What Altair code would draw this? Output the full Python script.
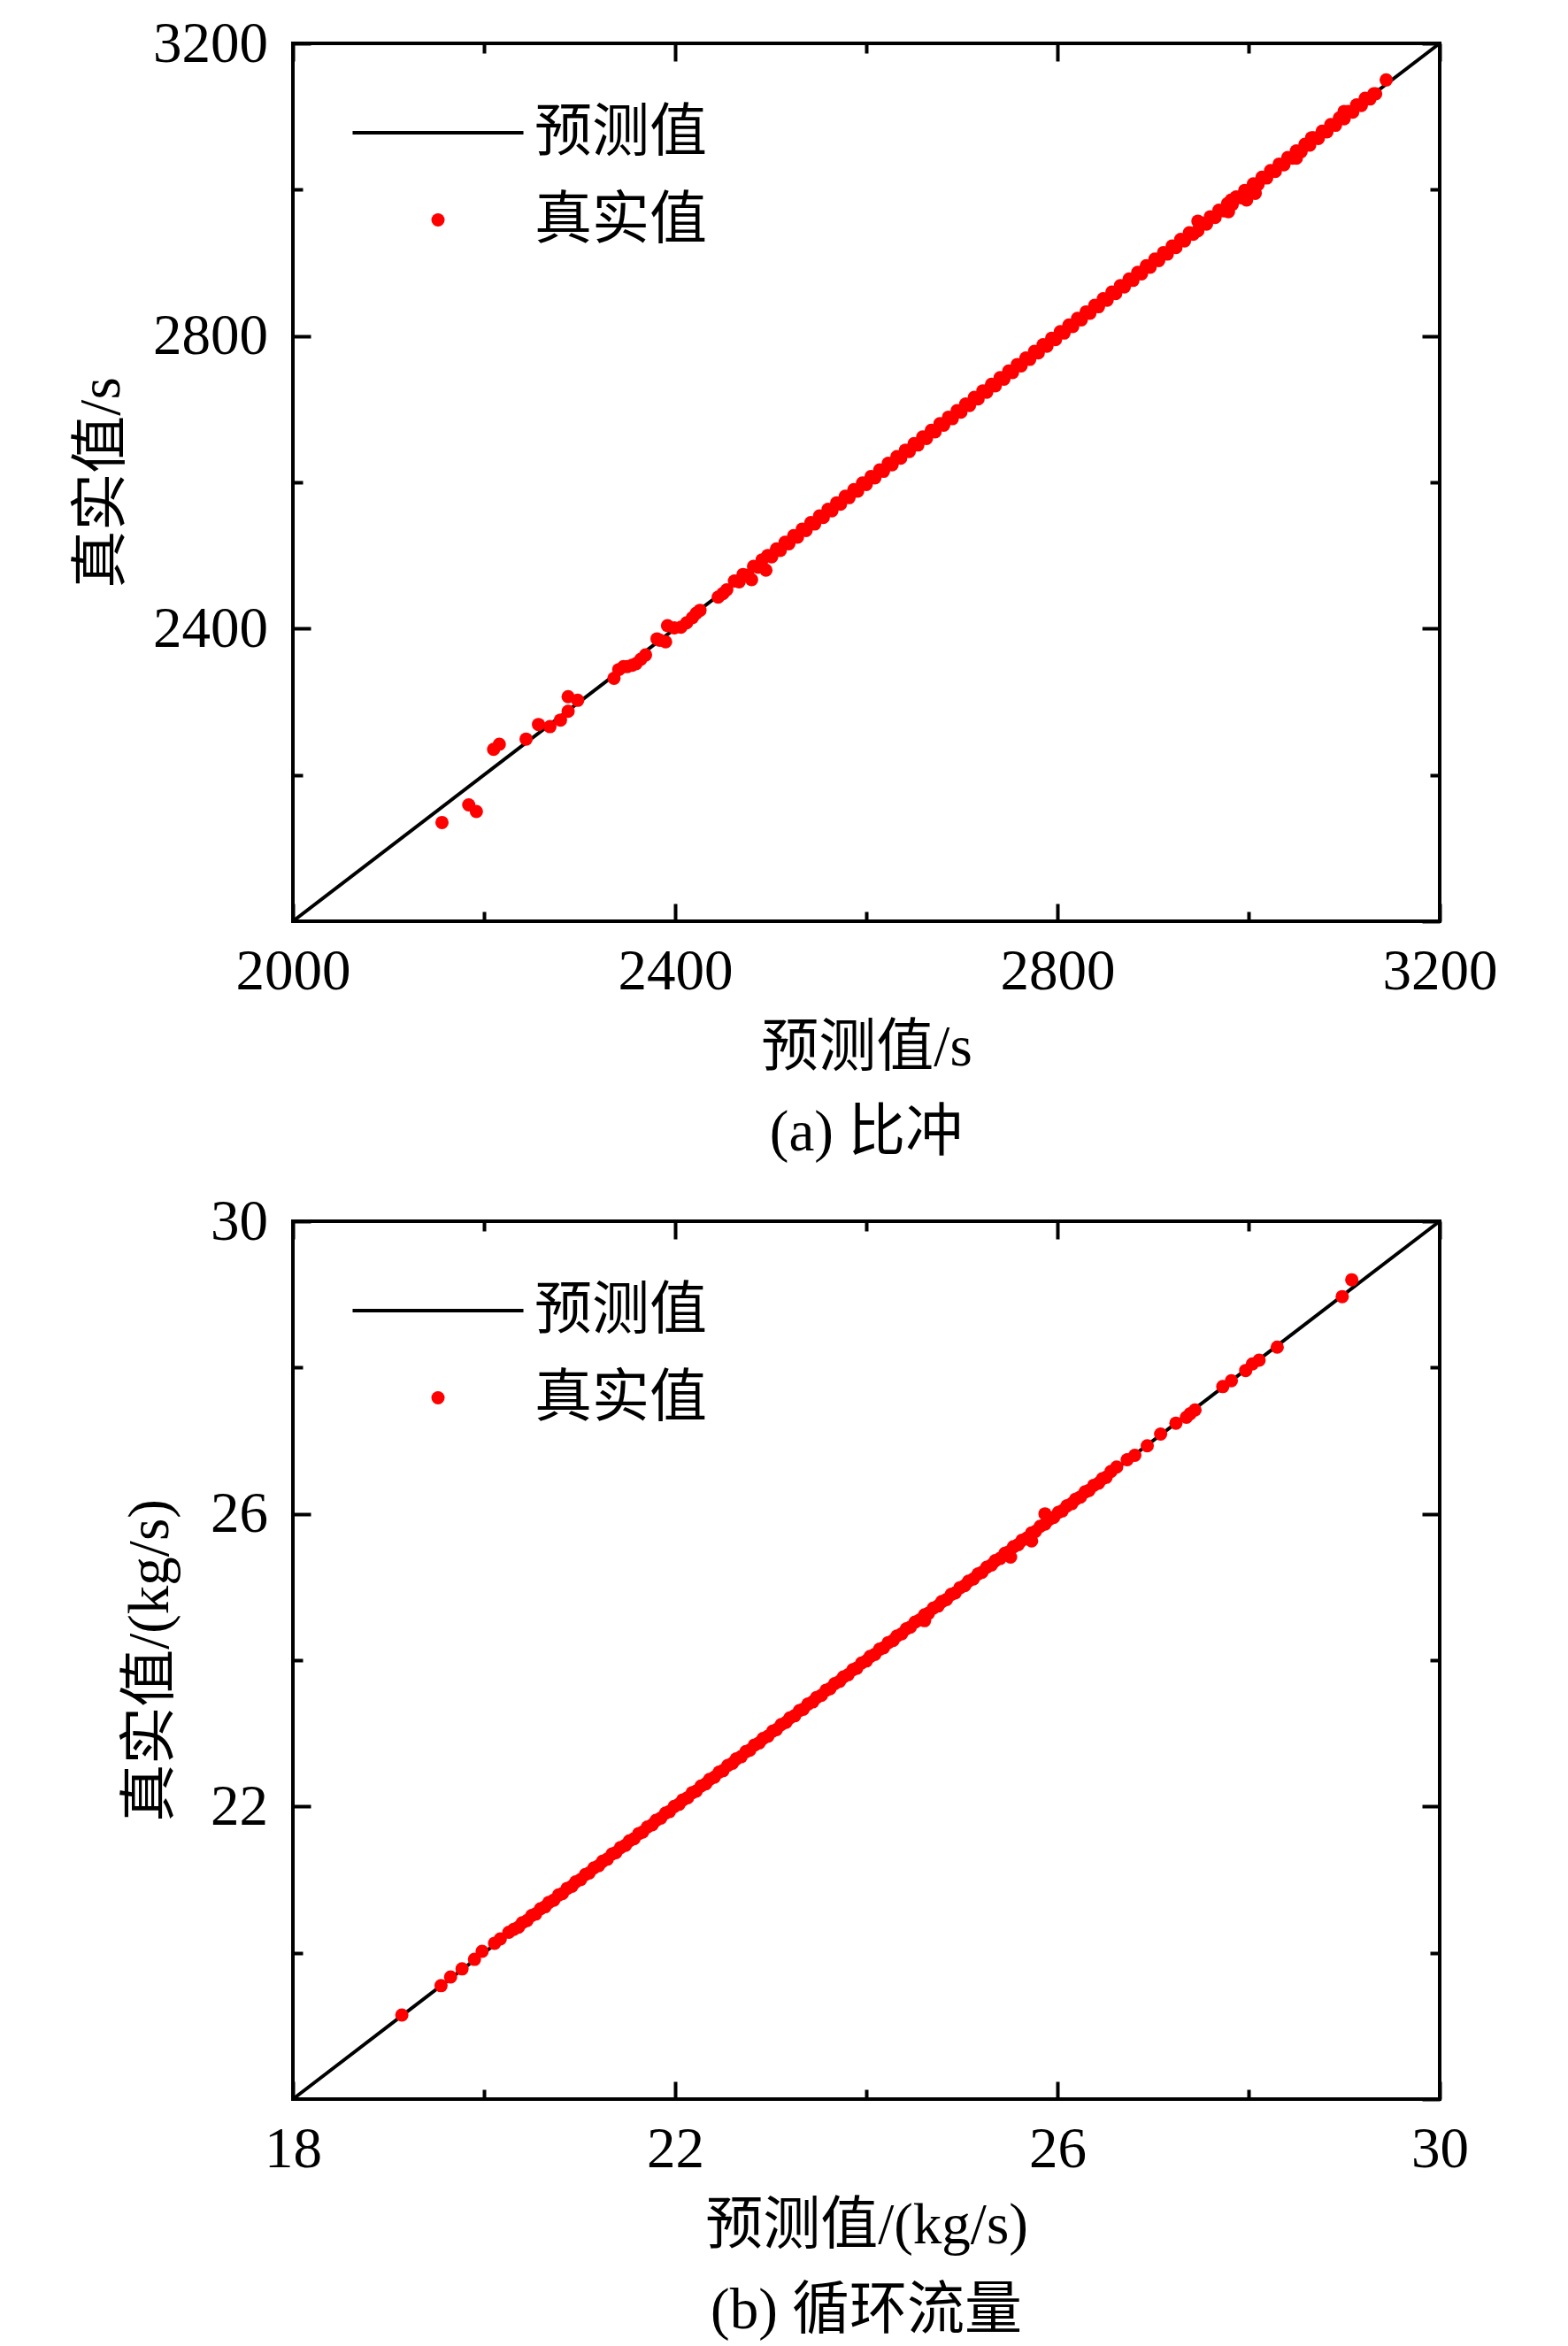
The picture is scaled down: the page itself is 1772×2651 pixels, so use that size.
import altair as alt
import pandas as pd

FONT = "Liberation Serif, Noto Sans CJK SC"
FS = 65
SERIES = ["预测值", "真实值"]

# ---------------- panel (a) 比冲 ----------------
a_range = [2000, 3200]
a_xmajor = [2000, 2400, 2800, 3200]
a_ymajor = [2400, 2800, 3200]
a_minor = [2200, 2600, 3000]

a_lo_pred = [2156, 2184, 2192, 2210, 2216, 2244, 2257, 2269, 2280, 2288,
             2288, 2298, 2336, 2341, 2346, 2350, 2355, 2359, 2364, 2369,
             2381, 2384, 2390, 2392, 2399, 2406, 2412, 2418, 2422, 2426,
             2445, 2450, 2454]
a_lo_true = [2135, 2159, 2150, 2235, 2242, 2249, 2269, 2266, 2275, 2287,
             2307, 2302, 2332, 2344, 2348, 2348, 2350, 2352, 2358, 2364,
             2386, 2384, 2382, 2404, 2401, 2402, 2408, 2415, 2421, 2425,
             2443, 2448, 2453]

a_band_pred = [2462, 2467, 2471, 2476, 2480, 2482, 2487, 2491, 2495, 2497,
               2501, 2506, 2510, 2515, 2519, 2524, 2528, 2533, 2537, 2542,
               2546, 2551, 2555, 2560, 2564, 2569, 2573, 2578, 2582, 2587,
               2591, 2596, 2600, 2605, 2609, 2614, 2618, 2623, 2627, 2632,
               2636, 2641, 2645, 2650, 2654, 2659, 2663, 2668, 2672, 2677,
               2681, 2686, 2690, 2695, 2699, 2704, 2708, 2713, 2717, 2722,
               2726, 2731, 2735, 2740, 2744, 2749, 2753, 2758, 2762, 2767,
               2771, 2776, 2780, 2785, 2789, 2794, 2798, 2803, 2807, 2812,
               2816, 2821, 2825, 2830, 2834, 2839, 2843, 2848, 2852, 2857,
               2861, 2866, 2870, 2875, 2879, 2884, 2888, 2893, 2897, 2902,
               2906, 2911, 2915, 2920, 2924, 2929, 2933, 2938, 2942, 2947,
               2947, 2951, 2956, 2960, 2965, 2969, 2974, 2979, 2978, 2982,
               2983, 2987, 2992, 2996, 2998, 3001, 3007, 3005, 3010, 3014,
               3019, 3023, 3028, 3032, 3037, 3041, 3046, 3050, 3050, 3055,
               3059, 3064, 3066, 3068, 3073, 3077, 3082, 3086, 3091, 3095,
               3100, 3100, 3104, 3109, 3113, 3118, 3122, 3127, 3131, 3133,
               3144]
a_band_true = [2465, 2464, 2474, 2473, 2467, 2485, 2484, 2494, 2480, 2500,
               2498, 2509, 2507, 2518, 2516, 2527, 2525, 2536, 2534, 2545,
               2543, 2554, 2552, 2563, 2561, 2572, 2570, 2581, 2579, 2590,
               2588, 2599, 2597, 2608, 2606, 2617, 2615, 2626, 2624, 2635,
               2633, 2644, 2642, 2653, 2651, 2662, 2660, 2671, 2669, 2680,
               2678, 2689, 2687, 2698, 2696, 2707, 2705, 2716, 2714, 2725,
               2723, 2734, 2732, 2743, 2741, 2752, 2750, 2761, 2759, 2770,
               2768, 2779, 2777, 2788, 2786, 2797, 2795, 2806, 2804, 2815,
               2813, 2824, 2822, 2833, 2831, 2842, 2840, 2851, 2849, 2860,
               2858, 2869, 2867, 2878, 2876, 2887, 2885, 2896, 2894, 2905,
               2903, 2914, 2912, 2923, 2921, 2932, 2930, 2941, 2939, 2957,
               2944, 2954, 2953, 2963, 2962, 2972, 2971, 2970, 2981, 2986,
               2980, 2990, 2989, 2999, 2986, 2998, 2995, 3008, 3007, 3017,
               3016, 3026, 3025, 3035, 3034, 3044, 3043, 3043, 3053, 3052,
               3062, 3061, 3071, 3071, 3070, 3080, 3079, 3089, 3088, 3098,
               3107, 3097, 3107, 3106, 3116, 3115, 3125, 3124, 3131, 3131,
               3150]

# ---------------- panel (b) 循环流量 ----------------
b_range = [18, 30]
b_xmajor = [18, 22, 26, 30]
b_ymajor = [22, 26, 30]
b_minor = [20, 24, 28]

b_lo_pred = [19.14, 19.55, 19.65, 19.77, 19.90, 19.98, 20.11, 20.17, 20.26]
b_lo_true = [19.15, 19.55, 19.67, 19.78, 19.91, 20.02, 20.13, 20.19, 20.28]

b_band_pred = [20.31, 20.36, 20.40, 20.45, 20.50, 20.54, 20.59, 20.64, 20.68, 20.73,
               20.78, 20.82, 20.87, 20.92, 20.96, 21.01, 21.06, 21.10, 21.15, 21.20,
               21.24, 21.29, 21.34, 21.38, 21.43, 21.48, 21.52, 21.57, 21.62, 21.66,
               21.71, 21.76, 21.80, 21.85, 21.90, 21.94, 21.99, 22.04, 22.08, 22.13,
               22.18, 22.22, 22.27, 22.32, 22.36, 22.41, 22.46, 22.50, 22.55, 22.60,
               22.64, 22.69, 22.74, 22.78, 22.83, 22.88, 22.92, 22.97, 23.02, 23.06,
               23.11, 23.16, 23.20, 23.25, 23.30, 23.34, 23.39, 23.44, 23.48, 23.53,
               23.58, 23.62, 23.67, 23.72, 23.76, 23.81, 23.86, 23.90, 23.95, 24.00,
               24.04, 24.09, 24.14, 24.18, 24.23, 24.28, 24.32, 24.37, 24.42, 24.46,
               24.51, 24.56, 24.61, 24.65, 24.70, 24.75, 24.79, 24.84, 24.89, 24.93,
               24.98, 25.03, 25.07, 25.12, 25.17, 25.21, 25.26, 25.31, 25.35, 25.40,
               25.45, 25.49, 25.54, 25.59, 25.63, 25.68, 25.73, 25.77, 25.82, 25.87,
               25.91, 25.96, 26.01, 26.05, 26.10, 26.15, 26.19, 26.24, 26.29, 26.33,
               26.38, 26.43, 26.47]
b_band_true = [20.32, 20.35, 20.41, 20.44, 20.51, 20.53, 20.60, 20.63, 20.69, 20.72,
               20.79, 20.81, 20.88, 20.91, 20.97, 21.00, 21.07, 21.09, 21.16, 21.19,
               21.25, 21.28, 21.35, 21.37, 21.44, 21.47, 21.53, 21.56, 21.63, 21.65,
               21.72, 21.75, 21.81, 21.84, 21.91, 21.93, 22.00, 22.03, 22.09, 22.12,
               22.19, 22.21, 22.28, 22.31, 22.37, 22.40, 22.47, 22.49, 22.56, 22.59,
               22.65, 22.68, 22.75, 22.77, 22.84, 22.87, 22.93, 22.96, 23.03, 23.05,
               23.12, 23.15, 23.21, 23.24, 23.31, 23.33, 23.40, 23.43, 23.49, 23.52,
               23.59, 23.61, 23.68, 23.71, 23.77, 23.80, 23.87, 23.89, 23.96, 23.99,
               24.05, 24.08, 24.15, 24.17, 24.24, 24.27, 24.33, 24.36, 24.43, 24.45,
               24.52, 24.55, 24.62, 24.64, 24.71, 24.74, 24.80, 24.83, 24.90, 24.92,
               24.99, 25.02, 25.08, 25.11, 25.18, 25.20, 25.27, 25.30, 25.36, 25.39,
               25.46, 25.48, 25.55, 25.58, 25.64, 25.67, 25.74, 25.76, 25.83, 25.86,
               25.92, 25.95, 26.02, 26.04, 26.11, 26.14, 26.20, 26.23, 26.30, 26.32,
               26.39, 26.42, 26.48]

b_out_pred = [25.87, 24.61, 25.51, 25.73]
b_out_true = [26.00, 24.54, 25.41, 25.63]

b_hi_pred = [26.51, 26.56, 26.62, 26.73, 26.81, 26.94, 27.08, 27.24, 27.35, 27.39,
             27.44, 27.73, 27.82, 27.97, 28.04, 28.11, 28.30, 28.98, 29.08]
b_hi_true = [26.50, 26.58, 26.64, 26.74, 26.80, 26.93, 27.09, 27.24, 27.32, 27.37,
             27.42, 27.74, 27.82, 27.96, 28.05, 28.10, 28.28, 28.97, 29.20]


def make_axis(orient, values, length, title=None, labels=True, ytitle_pad=24):
    horiz = orient in ("bottom", "top")
    kw = dict(
        orient=orient, values=values, format="d", domain=False, grid=False,
        ticks=True, tickSize=length, offset=-length, tickWidth=4, tickColor="black",
        labels=labels, labelFlush=False, labelOverlap=False,
        labelFont=FONT, labelFontSize=FS, labelColor="black",
        labelPadding=25.6 if horiz else 28.5,
        titleFont=FONT, titleFontSize=FS, titleFontWeight="normal",
        titleColor="black",
        titlePadding=22 if horiz else ytitle_pad,
        title=title,
    )
    return alt.Axis(**kw)


def make_legend():
    return alt.Legend(
        title=None, orient="none", legendX=131.5, legendY=68.5, padding=0,
        labelFont=FONT, labelFontSize=FS, labelColor="black", labelOffset=76.5,
        labelLimit=600, symbolSize=225, symbolStrokeWidth=0, rowPadding=32.5,
        symbolOpacity=1,
    )


# legend symbol for the 预测值 line: a thin filled bar; the 真实值 entry is a dot
LINE_SYMBOL = "M-12.87,-0.267H12.87V0.267H-12.87Z"


def panel(pred, true, rng, xmajor, ymajor, minor, xtitle, ytitle, caption, ytpad):
    pts = pd.DataFrame({"x": pred, "y": true, "s": ["真实值"] * len(pred)})
    diag = pd.DataFrame({"x": rng, "y": rng})
    xs = alt.Scale(domain=rng, nice=False, zero=False)
    ys = alt.Scale(domain=rng, nice=False, zero=False)
    line = alt.Chart(diag).mark_line(color="black", strokeWidth=4).encode(
        x=alt.X("x:Q", scale=xs, axis=make_axis("bottom", xmajor, 20, xtitle)),
        y=alt.Y("y:Q", scale=ys, axis=make_axis("left", ymajor, 20, ytitle, True, ytpad)),
    )
    minor_bl = alt.Chart(diag).mark_line(strokeOpacity=0).encode(
        x=alt.X("x:Q", scale=xs, axis=make_axis("bottom", minor, 11, None, False)),
        y=alt.Y("y:Q", scale=ys, axis=make_axis("left", minor, 11, None, False)),
    )
    minor_tr = alt.Chart(diag).mark_line(strokeOpacity=0).encode(
        x=alt.X("x:Q", scale=xs, axis=make_axis("top", minor, 11, None, False)),
        y=alt.Y("y:Q", scale=ys, axis=make_axis("right", minor, 11, None, False)),
    )
    leg = make_legend()
    dots = alt.Chart(pts).mark_point(filled=True, size=225, opacity=1).encode(
        x=alt.X("x:Q", scale=xs, axis=make_axis("top", xmajor, 20, None, False)),
        y=alt.Y("y:Q", scale=ys, axis=make_axis("right", xmajor, 20, None, False)),
        fill=alt.Fill("s:N", scale=alt.Scale(domain=SERIES, range=["black", "#ff0000"]),
                      legend=leg),
        shape=alt.Shape("s:N",
                        scale=alt.Scale(domain=SERIES, range=[LINE_SYMBOL, "circle"]),
                        legend=leg),
    )
    return alt.layer(line, minor_bl, minor_tr, dots).resolve_axis(
        x="independent", y="independent"
    ).properties(
        width=1296, height=992,
        title=alt.TitleParams(caption, orient="bottom", frame="group", anchor="middle",
                              font=FONT, fontSize=FS, fontWeight="normal",
                              color="black", offset=32),
    )


pa = panel(a_lo_pred + a_band_pred, a_lo_true + a_band_true, a_range,
           a_xmajor, a_ymajor, a_minor, "预测值/s", "真实值/s", "(a) 比冲", 24)
pb = panel(b_lo_pred + b_band_pred + b_out_pred + b_hi_pred,
           b_lo_true + b_band_true + b_out_true + b_hi_true, b_range,
           b_xmajor, b_ymajor, b_minor, "预测值/(kg/s)", "真实值/(kg/s)", "(b) 循环流量", 34)

chart = alt.vconcat(pa, pb, spacing=31).resolve_scale(
    x="independent", y="independent", fill="independent", shape="independent"
).resolve_legend(
    fill="independent", shape="independent"
).properties(
    padding={"left": 72, "top": 7, "right": 10, "bottom": 10}
).configure_view(stroke="black", strokeWidth=4)

chart.save("out.html", embed_options={"renderer": "svg", "actions": False})
